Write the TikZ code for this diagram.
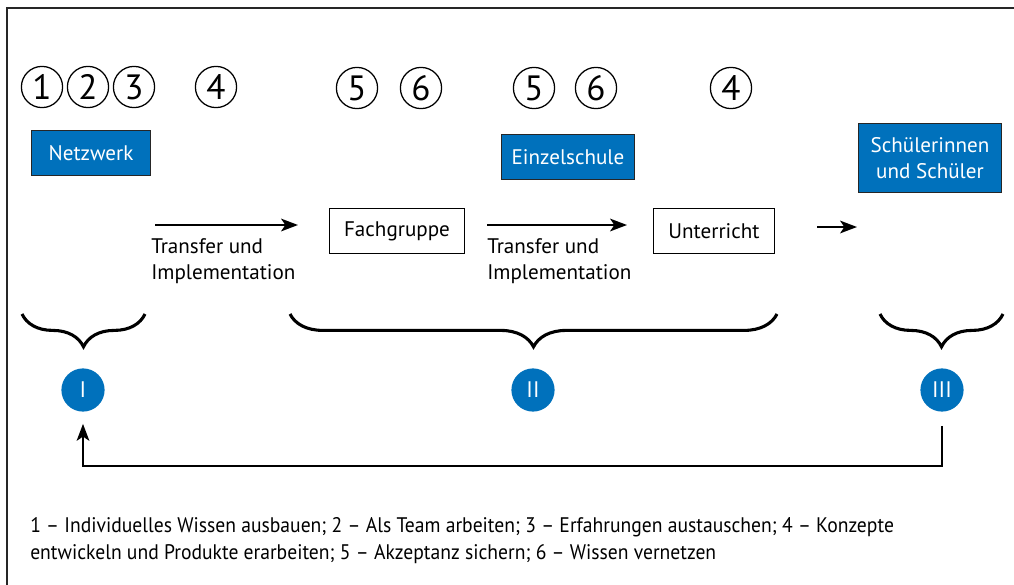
\documentclass[tikz,border=0pt]{standalone}
\usepackage{fontspec}
\setmainfont{PT Sans}
\usetikzlibrary{arrows.meta,decorations.pathreplacing}
\definecolor{schulblau}{HTML}{0071BC}

\begin{document}
\begin{tikzpicture}[x=0.025cm,y=-0.025cm]
\tikzstyle{zahl}=[circle,draw,line width=0.9pt,inner sep=0pt,minimum size=1.03cm,font=\fontsize{25}{25}\selectfont]
 \tikzstyle{ebene}=[rectangle,draw=black!85,fill=schulblau,text=white,inner sep=0pt,align=center,font=\fontsize{15}{19}\selectfont]
 \tikzstyle{stufe}=[rectangle,draw,inner sep=0pt,minimum height=1.12cm,font=\fontsize{15}{19}\selectfont]
 \tikzstyle{marke}=[circle,fill=schulblau,text=white,inner sep=0pt,minimum size=1.08cm,font=\fontsize{16}{16}\selectfont]
 \tikzstyle{weg}=[line width=1.6pt,-{Stealth[length=12pt,width=9pt,inset=3pt]}]
 \tikzstyle{klammer}=[line width=2.2pt,decorate,decoration={brace,mirror,amplitude=0.82cm}]
 \tikzstyle{notiz}=[inner sep=0pt,anchor=north west,align=left,font=\fontsize{15}{19}\selectfont]
 \useasboundingbox (0,0) rectangle (1014,585);
 % Rahmen
 \draw[line width=1.2pt,black!85] (7,585) -- (7,8) -- (1014,8);

 % Aktivitaeten
 \node[zahl] (z1) at (42,87) {1};
 \node[zahl] (z2) at (88,87) {2};
 \node[zahl] (z3) at (134,87) {3};
 \node[zahl] (z4a) at (216,87) {4};
 \node[zahl] (z5a) at (357,88) {5};
 \node[zahl] (z6a) at (421,88) {6};
 \node[zahl] (z5b) at (534,88) {5};
 \node[zahl] (z6b) at (596,88) {6};
 \node[zahl] (z4b) at (731,88) {4};

 \node[ebene, minimum width=2.98cm, minimum height=1.12cm] (netz) at (91,153) {Netzwerk};
 \node[ebene, minimum width=3.32cm, minimum height=1.12cm] (schule) at (568,157) {Einzelschule};
 \node[ebene, minimum width=3.58cm, minimum height=1.72cm] (sus) at (930,158) {Schülerinnen\\und Schüler};

 \node[stufe, minimum width=3.38cm] (fach) at (397,231) {Fachgruppe};
 \node[stufe, minimum width=3.02cm] (unt) at (714,231) {Unterricht};

 \coordinate (a1) at (155,225);
 \coordinate (e1) at (298,225);
 \coordinate (a2) at (487,225);
 \coordinate (e2) at (627,225);
 \coordinate (a3) at (817,227);
 \coordinate (e3) at (857,227);
 \draw[weg] (a1) -- (e1);
 \draw[weg] (a2) -- (e2);
 \draw[weg] (a3) -- (e3);
 \node[notiz] (t1) at (151,238) {Transfer und\\Implementation};
 \node[notiz] (t2) at (487,238) {Transfer und\\Implementation};

 % Ebenen
 \draw[klammer] (22,314) -- (145,314);
 \draw[klammer] (290,314) -- (777,314);
 \draw[klammer] (880,314) -- (1003,314);
 \node[marke] (m1) at (83,390) {I};
 \node[marke] (m2) at (533,390) {II};
 \node[marke] (m3) at (942,390) {III};
 \draw[line width=1.4pt,-{Stealth[length=12pt,width=9pt,inset=3pt]}] ([yshift=-0.35cm]m3.south) -- ([yshift=-1.35cm]m3.south) -| ([yshift=-0.3cm]m1.south);

 \node[notiz,font=\addfontfeature{FakeStretch=0.93}\fontsize{15}{19}\selectfont] (legende) at (30,517) {1 – Individuelles Wissen ausbauen; 2 – Als Team arbeiten; 3 – Erfahrungen austauschen; 4 – Konzepte\\entwickeln und Produkte erarbeiten; 5 – Akzeptanz sichern; 6 – Wissen vernetzen};
\end{tikzpicture}
\end{document}
